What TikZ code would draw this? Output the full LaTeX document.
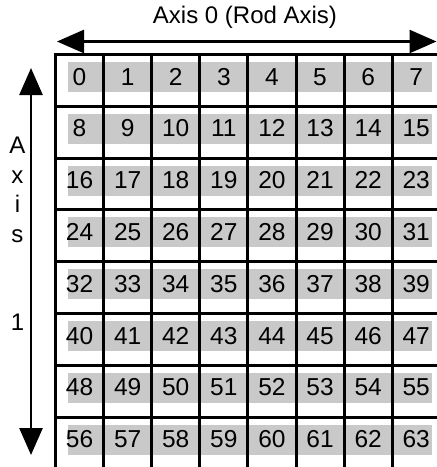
\documentclass[tikz,border=0pt]{standalone}
\usepackage{fontspec}
\setmainfont{Liberation Sans}
\usepackage{tikz}
\usetikzlibrary{arrows.meta}
\tikzset{
cellnum/.style={
inner sep=0pt,
anchor=base,
font=\fontsize{24.5}{29}\selectfont
},
axlabel/.style={
inner sep=0pt,
anchor=base,
font=\fontsize{24}{29}\selectfont
},
bar/.style={
fill=black!21,
draw=none
},
gridline/.style={
line width=3pt,
line cap=rect
},
axarrow/.style={
{Triangle[length=27pt,width=23pt]}-{Triangle[length=27pt,width=23pt]},
line width=2.6pt
}
}

\begin{document}
\begin{tikzpicture}[x=1pt,y=-1pt]
\useasboundingbox (0,0) rectangle (437,467);
% gray bands behind the numbers
\foreach \r in {0,...,7}
\fill[bar] (68,54.5+51.8*\r+7.5) rectangle (432,54.5+51.8*\r+37.5);
% grid
\foreach \r in {0,...,7}
\draw[gridline] (55.5,54.5+51.8*\r) -- (440,54.5+51.8*\r);
\foreach \c in {0,...,7}
\draw[gridline] (55.5+48.1*\c,54.5) -- (55.5+48.1*\c,470);
% cell numbers
\foreach \r in {0,...,7}
\foreach \c in {0,...,7}{
\pgfmathtruncatemacro\k{8*\r+\c}
\node[cellnum] (n\k) at (79.55+48.1*\c,85+51.8*\r) {\k};
}
% axes
\node[axlabel] (title) at (245,23) {Axis 0 (Rod Axis)};
\coordinate (hl) at (57,41.5);
\coordinate (hr) at (436.5,41.5);
\draw[axarrow] (hl) -- (hr);
\foreach \ch/\yy in {A/153,x/183,i/212,s/242,1/330}
\node[axlabel] (ax\ch) at (17.5,\yy) {\ch};
\coordinate (vt) at (31,68);
\coordinate (vb) at (31,455);
\draw[axarrow] (vt) -- (vb);
\end{tikzpicture}
\end{document}
